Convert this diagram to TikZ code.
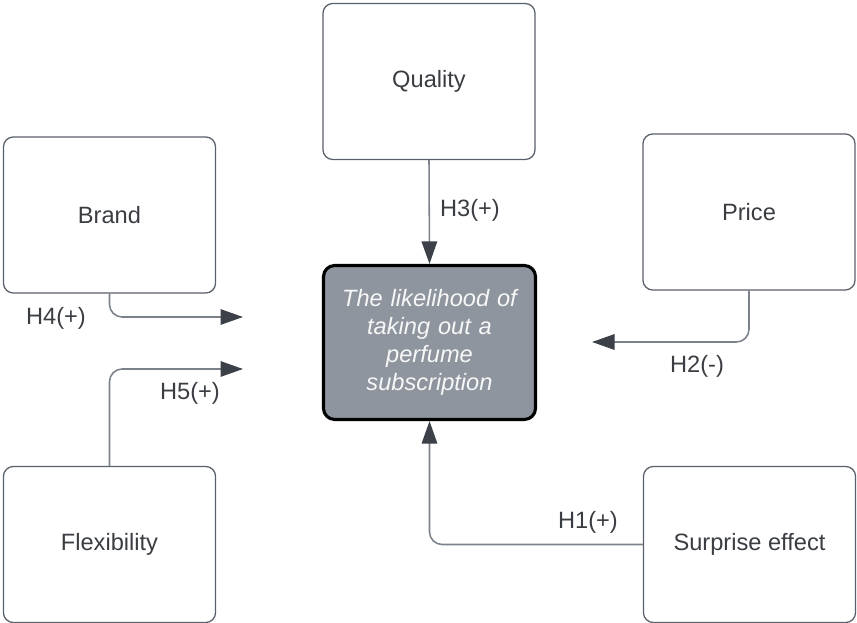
\documentclass[tikz,border=0pt]{standalone}
\usepackage{fontspec}
\setmainfont{Liberation Sans}
\usetikzlibrary{arrows.meta}
\definecolor{boxline}{HTML}{5A6069}
\definecolor{arrline}{HTML}{7C828B}
\definecolor{tipcol}{HTML}{3B4049}
\definecolor{txtcol}{HTML}{3A3D42}
\definecolor{mainfill}{HTML}{8F959E}
\tikzset{
  factor/.style={draw=boxline, line width=0.9pt, rounded corners=7pt, fill=white,
    minimum width=5.3cm, minimum height=3.9cm, text=txtcol, inner sep=0pt},
  target/.style={draw=black, line width=2.2pt, rounded corners=8pt, fill=mainfill,
    minimum width=5.3cm, minimum height=3.85cm, text=white!92!mainfill, inner sep=0pt,
    text width=5.15cm, align=center, font={\fontsize{16.8}{19.8}\selectfont\itshape}},
  hyp/.style={draw=arrline, line width=1.1pt, rounded corners=9pt,
    -{Triangle[length=16pt,width=11pt,fill=tipcol,color=tipcol]}},
  hlab/.style={text=txtcol}
}
\begin{document}
\begin{tikzpicture}[x=0.025cm, y=-0.025cm, font={\fontsize{16.8}{20}\selectfont}]
\useasboundingbox (0,0) rectangle (857,623);
        %Boxes
        \node[factor] (quality) at (429,81.5) {Quality};
        \node[factor] (brand) at (109.5,215) {Brand};
        \node[factor] (price) at (749,212) {Price};
        \node[factor] (flex) at (109.5,544.5) {Flexibility};
        \node[factor] (surprise) at (749.5,544.5) {Surprise effect};
        \node[target] (likely) at (429.5,342.5) {The likelihood of\\ taking out a\\ perfume\\ subscription};
        %Free ends
        \coordinate (h4end) at (243,317);
        \coordinate (h5end) at (243,369);
        \coordinate (h2end) at (592,342);
        %Arrows
        \draw[hyp] (quality.south) -- (likely.north);
        \draw[hyp] (brand.south) |- (h4end);
        \draw[hyp] (flex.north) |- (h5end);
        \draw[hyp] (price.south) |- (h2end);
        \draw[hyp] (surprise.west) -| (likely.south);
        %Labels
        \node[hlab] (h3) at (470,210) {H3(+)};
        \node[hlab] (h4) at (56,318) {H4(+)};
        \node[hlab] (h5) at (190,393) {H5(+)};
        \node[hlab] (h2) at (697,366) {H2(-)};
        \node[hlab] (h1) at (588,522) {H1(+)};
\end{tikzpicture}
\end{document}
